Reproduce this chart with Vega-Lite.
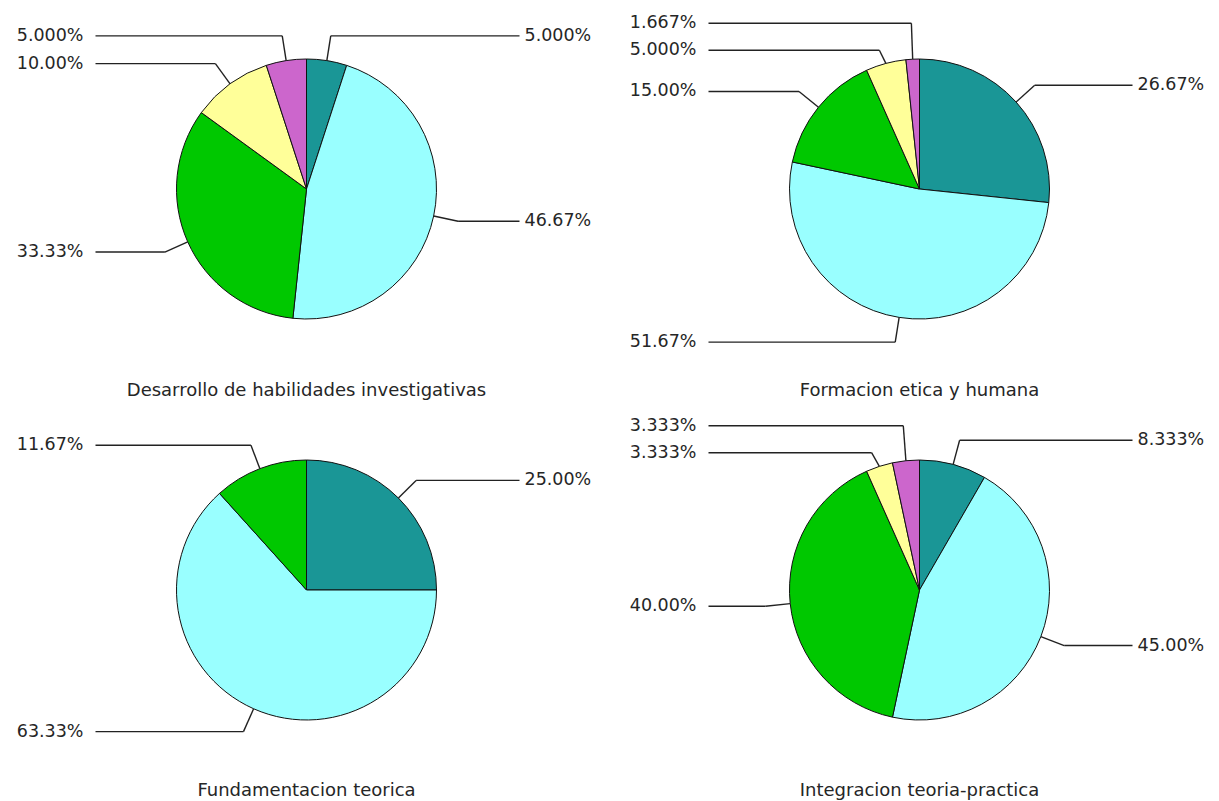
{
  "$schema": "https://vega.github.io/schema/vega-lite/v6.json",
  "padding": 0,
  "background": "white",
  "data": {"values": [
    {"panel": "Desarrollo de habilidades investigativas", "orden": 1, "pct": 5.000},
    {"panel": "Desarrollo de habilidades investigativas", "orden": 2, "pct": 46.67},
    {"panel": "Desarrollo de habilidades investigativas", "orden": 3, "pct": 33.33},
    {"panel": "Desarrollo de habilidades investigativas", "orden": 4, "pct": 10.00},
    {"panel": "Desarrollo de habilidades investigativas", "orden": 5, "pct": 5.000},
    {"panel": "Formacion etica y humana", "orden": 1, "pct": 26.67},
    {"panel": "Formacion etica y humana", "orden": 2, "pct": 51.67},
    {"panel": "Formacion etica y humana", "orden": 3, "pct": 15.00},
    {"panel": "Formacion etica y humana", "orden": 4, "pct": 5.000},
    {"panel": "Formacion etica y humana", "orden": 5, "pct": 1.667},
    {"panel": "Fundamentacion teorica", "orden": 1, "pct": 25.00},
    {"panel": "Fundamentacion teorica", "orden": 2, "pct": 63.33},
    {"panel": "Fundamentacion teorica", "orden": 3, "pct": 11.67},
    {"panel": "Integracion teoria-practica", "orden": 1, "pct": 8.333},
    {"panel": "Integracion teoria-practica", "orden": 2, "pct": 45.00},
    {"panel": "Integracion teoria-practica", "orden": 3, "pct": 40.00},
    {"panel": "Integracion teoria-practica", "orden": 4, "pct": 3.333},
    {"panel": "Integracion teoria-practica", "orden": 5, "pct": 3.333}
  ]},
  "transform": [
    {"joinaggregate": [{"op": "sum", "field": "pct", "as": "total"}], "groupby": ["panel"]},
    {"window": [{"op": "sum", "field": "pct", "as": "cum"}], "groupby": ["panel"], "sort": [{"field": "orden"}], "frame": [null, 0], "ignorePeers": true},
    {"calculate": "2*PI*(datum.cum - datum.pct/2)/datum.total", "as": "mid"},
    {"calculate": "sin(datum.mid) < 0 ? 'L' : 'R'", "as": "side"},
    {"calculate": "130*sin(datum.mid)", "as": "x0"},
    {"calculate": "-130*cos(datum.mid)", "as": "y0"},
    {"calculate": "155*sin(datum.mid)", "as": "x1"},
    {"calculate": "-155*cos(datum.mid)", "as": "yb"},
    {"window": [{"op": "row_number", "as": "rn"}], "groupby": ["panel", "side"], "sort": [{"field": "yb"}]},
    {"calculate": "datum.yb - 27*datum.rn", "as": "a"},
    {"window": [{"op": "max", "field": "a", "as": "amax"}], "groupby": ["panel", "side"], "sort": [{"field": "yb"}], "frame": [null, 0], "ignorePeers": true},
    {"window": [{"op": "min", "field": "a", "as": "amin"}], "groupby": ["panel", "side"], "sort": [{"field": "yb"}], "frame": [0, null], "ignorePeers": true},
    {"calculate": "27*datum.rn + (datum.amax + datum.amin)/2", "as": "y1"},
    {"calculate": "datum.side == 'L' ? -211 : 213", "as": "x2"},
    {"calculate": "datum.side == 'L' ? -223 : 218", "as": "xt"},
    {"calculate": "format(datum.pct, '.4r') + '%'", "as": "lab"}
  ],
  "columns": 2,
  "spacing": 0,
  "concat": [
    {
      "width": 613, "height": 401,
      "transform": [{"filter": "datum.panel == 'Desarrollo de habilidades investigativas'"}],
      "layer": [
        {"mark": {"type": "arc", "outerRadius": 130, "stroke": "#111111", "strokeWidth": 1},
         "encoding": {"theta": {"field": "pct", "type": "quantitative", "stack": true}, "order": {"field": "orden", "type": "quantitative"},
           "color": {"field": "orden", "type": "nominal", "scale": {"domain": [1, 2, 3, 4, 5], "range": ["#1a9696", "#99ffff", "#00c800", "#ffff99", "#cc66cc"]}, "legend": null},
           "x": {"datum": 0, "type": "quantitative", "scale": {"domain": [-306.5, 306.5], "nice": false, "zero": false}, "axis": null},
           "y": {"datum": 0, "type": "quantitative", "scale": {"domain": [-189, 212], "nice": false, "zero": false, "reverse": true}, "axis": null}}},
        {"mark": {"type": "rule", "stroke": "#222222", "strokeWidth": 1.4},
         "encoding": {"x": {"field": "x0", "type": "quantitative", "scale": {"domain": [-306.5, 306.5], "nice": false, "zero": false}, "axis": null},
           "y": {"field": "y0", "type": "quantitative", "scale": {"domain": [-189, 212], "nice": false, "zero": false, "reverse": true}, "axis": null},
           "x2": {"field": "x1"}, "y2": {"field": "y1"}}},
        {"mark": {"type": "rule", "stroke": "#222222", "strokeWidth": 1.4},
         "encoding": {"x": {"field": "x1", "type": "quantitative", "scale": {"domain": [-306.5, 306.5], "nice": false, "zero": false}, "axis": null},
           "y": {"field": "y1", "type": "quantitative", "scale": {"domain": [-189, 212], "nice": false, "zero": false, "reverse": true}, "axis": null},
           "x2": {"field": "x2"}, "y2": {"field": "y1"}}},
        {"transform": [{"filter": "datum.side == 'L'"}],
         "mark": {"type": "text", "align": "right", "baseline": "middle", "font": "DejaVu Sans", "fontSize": 17.5, "color": "#262626"},
         "encoding": {"x": {"field": "xt", "type": "quantitative", "scale": {"domain": [-306.5, 306.5], "nice": false, "zero": false}, "axis": null},
           "y": {"field": "y1", "type": "quantitative", "scale": {"domain": [-189, 212], "nice": false, "zero": false, "reverse": true}, "axis": null},
           "text": {"field": "lab", "type": "nominal"}}},
        {"transform": [{"filter": "datum.side == 'R'"}],
         "mark": {"type": "text", "align": "left", "baseline": "middle", "font": "DejaVu Sans", "fontSize": 17.5, "color": "#262626"},
         "encoding": {"x": {"field": "xt", "type": "quantitative", "scale": {"domain": [-306.5, 306.5], "nice": false, "zero": false}, "axis": null},
           "y": {"field": "y1", "type": "quantitative", "scale": {"domain": [-189, 212], "nice": false, "zero": false, "reverse": true}, "axis": null},
           "text": {"field": "lab", "type": "nominal"}}},
        {"transform": [{"filter": "datum.orden == 1"}],
         "mark": {"type": "text", "align": "center", "baseline": "middle", "font": "DejaVu Sans", "fontSize": 18, "color": "#262626"},
         "encoding": {"x": {"datum": 0, "type": "quantitative", "scale": {"domain": [-306.5, 306.5], "nice": false, "zero": false}, "axis": null},
           "y": {"datum": 202, "type": "quantitative", "scale": {"domain": [-189, 212], "nice": false, "zero": false, "reverse": true}, "axis": null},
           "text": {"field": "panel", "type": "nominal"}}}
      ]
    },
    {
      "width": 613, "height": 401,
      "transform": [{"filter": "datum.panel == 'Formacion etica y humana'"}],
      "layer": [
        {"mark": {"type": "arc", "outerRadius": 130, "stroke": "#111111", "strokeWidth": 1},
         "encoding": {"theta": {"field": "pct", "type": "quantitative", "stack": true}, "order": {"field": "orden", "type": "quantitative"},
           "color": {"field": "orden", "type": "nominal", "scale": {"domain": [1, 2, 3, 4, 5], "range": ["#1a9696", "#99ffff", "#00c800", "#ffff99", "#cc66cc"]}, "legend": null},
           "x": {"datum": 0, "type": "quantitative", "scale": {"domain": [-306.5, 306.5], "nice": false, "zero": false}, "axis": null},
           "y": {"datum": 0, "type": "quantitative", "scale": {"domain": [-189, 212], "nice": false, "zero": false, "reverse": true}, "axis": null}}},
        {"mark": {"type": "rule", "stroke": "#222222", "strokeWidth": 1.4},
         "encoding": {"x": {"field": "x0", "type": "quantitative", "scale": {"domain": [-306.5, 306.5], "nice": false, "zero": false}, "axis": null},
           "y": {"field": "y0", "type": "quantitative", "scale": {"domain": [-189, 212], "nice": false, "zero": false, "reverse": true}, "axis": null},
           "x2": {"field": "x1"}, "y2": {"field": "y1"}}},
        {"mark": {"type": "rule", "stroke": "#222222", "strokeWidth": 1.4},
         "encoding": {"x": {"field": "x1", "type": "quantitative", "scale": {"domain": [-306.5, 306.5], "nice": false, "zero": false}, "axis": null},
           "y": {"field": "y1", "type": "quantitative", "scale": {"domain": [-189, 212], "nice": false, "zero": false, "reverse": true}, "axis": null},
           "x2": {"field": "x2"}, "y2": {"field": "y1"}}},
        {"transform": [{"filter": "datum.side == 'L'"}],
         "mark": {"type": "text", "align": "right", "baseline": "middle", "font": "DejaVu Sans", "fontSize": 17.5, "color": "#262626"},
         "encoding": {"x": {"field": "xt", "type": "quantitative", "scale": {"domain": [-306.5, 306.5], "nice": false, "zero": false}, "axis": null},
           "y": {"field": "y1", "type": "quantitative", "scale": {"domain": [-189, 212], "nice": false, "zero": false, "reverse": true}, "axis": null},
           "text": {"field": "lab", "type": "nominal"}}},
        {"transform": [{"filter": "datum.side == 'R'"}],
         "mark": {"type": "text", "align": "left", "baseline": "middle", "font": "DejaVu Sans", "fontSize": 17.5, "color": "#262626"},
         "encoding": {"x": {"field": "xt", "type": "quantitative", "scale": {"domain": [-306.5, 306.5], "nice": false, "zero": false}, "axis": null},
           "y": {"field": "y1", "type": "quantitative", "scale": {"domain": [-189, 212], "nice": false, "zero": false, "reverse": true}, "axis": null},
           "text": {"field": "lab", "type": "nominal"}}},
        {"transform": [{"filter": "datum.orden == 1"}],
         "mark": {"type": "text", "align": "center", "baseline": "middle", "font": "DejaVu Sans", "fontSize": 18, "color": "#262626"},
         "encoding": {"x": {"datum": 0, "type": "quantitative", "scale": {"domain": [-306.5, 306.5], "nice": false, "zero": false}, "axis": null},
           "y": {"datum": 202, "type": "quantitative", "scale": {"domain": [-189, 212], "nice": false, "zero": false, "reverse": true}, "axis": null},
           "text": {"field": "panel", "type": "nominal"}}}
      ]
    },
    {
      "width": 613, "height": 401,
      "transform": [{"filter": "datum.panel == 'Fundamentacion teorica'"}],
      "layer": [
        {"mark": {"type": "arc", "outerRadius": 130, "stroke": "#111111", "strokeWidth": 1},
         "encoding": {"theta": {"field": "pct", "type": "quantitative", "stack": true}, "order": {"field": "orden", "type": "quantitative"},
           "color": {"field": "orden", "type": "nominal", "scale": {"domain": [1, 2, 3, 4, 5], "range": ["#1a9696", "#99ffff", "#00c800", "#ffff99", "#cc66cc"]}, "legend": null},
           "x": {"datum": 0, "type": "quantitative", "scale": {"domain": [-306.5, 306.5], "nice": false, "zero": false}, "axis": null},
           "y": {"datum": 0, "type": "quantitative", "scale": {"domain": [-189, 212], "nice": false, "zero": false, "reverse": true}, "axis": null}}},
        {"mark": {"type": "rule", "stroke": "#222222", "strokeWidth": 1.4},
         "encoding": {"x": {"field": "x0", "type": "quantitative", "scale": {"domain": [-306.5, 306.5], "nice": false, "zero": false}, "axis": null},
           "y": {"field": "y0", "type": "quantitative", "scale": {"domain": [-189, 212], "nice": false, "zero": false, "reverse": true}, "axis": null},
           "x2": {"field": "x1"}, "y2": {"field": "y1"}}},
        {"mark": {"type": "rule", "stroke": "#222222", "strokeWidth": 1.4},
         "encoding": {"x": {"field": "x1", "type": "quantitative", "scale": {"domain": [-306.5, 306.5], "nice": false, "zero": false}, "axis": null},
           "y": {"field": "y1", "type": "quantitative", "scale": {"domain": [-189, 212], "nice": false, "zero": false, "reverse": true}, "axis": null},
           "x2": {"field": "x2"}, "y2": {"field": "y1"}}},
        {"transform": [{"filter": "datum.side == 'L'"}],
         "mark": {"type": "text", "align": "right", "baseline": "middle", "font": "DejaVu Sans", "fontSize": 17.5, "color": "#262626"},
         "encoding": {"x": {"field": "xt", "type": "quantitative", "scale": {"domain": [-306.5, 306.5], "nice": false, "zero": false}, "axis": null},
           "y": {"field": "y1", "type": "quantitative", "scale": {"domain": [-189, 212], "nice": false, "zero": false, "reverse": true}, "axis": null},
           "text": {"field": "lab", "type": "nominal"}}},
        {"transform": [{"filter": "datum.side == 'R'"}],
         "mark": {"type": "text", "align": "left", "baseline": "middle", "font": "DejaVu Sans", "fontSize": 17.5, "color": "#262626"},
         "encoding": {"x": {"field": "xt", "type": "quantitative", "scale": {"domain": [-306.5, 306.5], "nice": false, "zero": false}, "axis": null},
           "y": {"field": "y1", "type": "quantitative", "scale": {"domain": [-189, 212], "nice": false, "zero": false, "reverse": true}, "axis": null},
           "text": {"field": "lab", "type": "nominal"}}},
        {"transform": [{"filter": "datum.orden == 1"}],
         "mark": {"type": "text", "align": "center", "baseline": "middle", "font": "DejaVu Sans", "fontSize": 18, "color": "#262626"},
         "encoding": {"x": {"datum": 0, "type": "quantitative", "scale": {"domain": [-306.5, 306.5], "nice": false, "zero": false}, "axis": null},
           "y": {"datum": 201, "type": "quantitative", "scale": {"domain": [-189, 212], "nice": false, "zero": false, "reverse": true}, "axis": null},
           "text": {"field": "panel", "type": "nominal"}}}
      ]
    },
    {
      "width": 613, "height": 401,
      "transform": [{"filter": "datum.panel == 'Integracion teoria-practica'"}],
      "layer": [
        {"mark": {"type": "arc", "outerRadius": 130, "stroke": "#111111", "strokeWidth": 1},
         "encoding": {"theta": {"field": "pct", "type": "quantitative", "stack": true}, "order": {"field": "orden", "type": "quantitative"},
           "color": {"field": "orden", "type": "nominal", "scale": {"domain": [1, 2, 3, 4, 5], "range": ["#1a9696", "#99ffff", "#00c800", "#ffff99", "#cc66cc"]}, "legend": null},
           "x": {"datum": 0, "type": "quantitative", "scale": {"domain": [-306.5, 306.5], "nice": false, "zero": false}, "axis": null},
           "y": {"datum": 0, "type": "quantitative", "scale": {"domain": [-189, 212], "nice": false, "zero": false, "reverse": true}, "axis": null}}},
        {"mark": {"type": "rule", "stroke": "#222222", "strokeWidth": 1.4},
         "encoding": {"x": {"field": "x0", "type": "quantitative", "scale": {"domain": [-306.5, 306.5], "nice": false, "zero": false}, "axis": null},
           "y": {"field": "y0", "type": "quantitative", "scale": {"domain": [-189, 212], "nice": false, "zero": false, "reverse": true}, "axis": null},
           "x2": {"field": "x1"}, "y2": {"field": "y1"}}},
        {"mark": {"type": "rule", "stroke": "#222222", "strokeWidth": 1.4},
         "encoding": {"x": {"field": "x1", "type": "quantitative", "scale": {"domain": [-306.5, 306.5], "nice": false, "zero": false}, "axis": null},
           "y": {"field": "y1", "type": "quantitative", "scale": {"domain": [-189, 212], "nice": false, "zero": false, "reverse": true}, "axis": null},
           "x2": {"field": "x2"}, "y2": {"field": "y1"}}},
        {"transform": [{"filter": "datum.side == 'L'"}],
         "mark": {"type": "text", "align": "right", "baseline": "middle", "font": "DejaVu Sans", "fontSize": 17.5, "color": "#262626"},
         "encoding": {"x": {"field": "xt", "type": "quantitative", "scale": {"domain": [-306.5, 306.5], "nice": false, "zero": false}, "axis": null},
           "y": {"field": "y1", "type": "quantitative", "scale": {"domain": [-189, 212], "nice": false, "zero": false, "reverse": true}, "axis": null},
           "text": {"field": "lab", "type": "nominal"}}},
        {"transform": [{"filter": "datum.side == 'R'"}],
         "mark": {"type": "text", "align": "left", "baseline": "middle", "font": "DejaVu Sans", "fontSize": 17.5, "color": "#262626"},
         "encoding": {"x": {"field": "xt", "type": "quantitative", "scale": {"domain": [-306.5, 306.5], "nice": false, "zero": false}, "axis": null},
           "y": {"field": "y1", "type": "quantitative", "scale": {"domain": [-189, 212], "nice": false, "zero": false, "reverse": true}, "axis": null},
           "text": {"field": "lab", "type": "nominal"}}},
        {"transform": [{"filter": "datum.orden == 1"}],
         "mark": {"type": "text", "align": "center", "baseline": "middle", "font": "DejaVu Sans", "fontSize": 18, "color": "#262626"},
         "encoding": {"x": {"datum": 0, "type": "quantitative", "scale": {"domain": [-306.5, 306.5], "nice": false, "zero": false}, "axis": null},
           "y": {"datum": 201, "type": "quantitative", "scale": {"domain": [-189, 212], "nice": false, "zero": false, "reverse": true}, "axis": null},
           "text": {"field": "panel", "type": "nominal"}}}
      ]
    }
  ],
  "config": {"view": {"stroke": null}}
}
